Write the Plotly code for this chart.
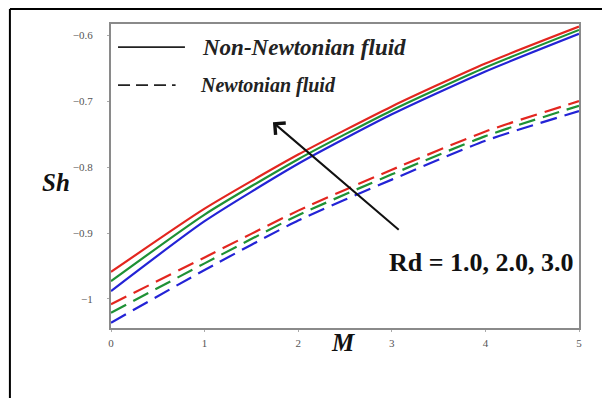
import plotly.graph_objects as go

# ---------------- data ----------------
M = [0, 1, 2, 3, 4, 5]
# Non-Newtonian fluid (solid)
nn_rd1 = [-0.959, -0.863, -0.781, -0.708, -0.643, -0.587]
nn_rd2 = [-0.973, -0.872, -0.788, -0.714, -0.649, -0.592]
nn_rd3 = [-0.988, -0.882, -0.795, -0.720, -0.655, -0.598]
# Newtonian fluid (dashed)
nw_rd1 = [-1.008, -0.937, -0.866, -0.804, -0.746, -0.700]
nw_rd2 = [-1.021, -0.946, -0.873, -0.811, -0.753, -0.707]
nw_rd3 = [-1.036, -0.956, -0.881, -0.819, -0.760, -0.715]

y_ticks = [-1.0, -0.9, -0.8, -0.7, -0.6]
y_tick_text = ["\u22121", "\u22120.9", "\u22120.8", "\u22120.7", "\u22120.6"]
x_ticks = [0, 1, 2, 3, 4, 5]

colors = ["#e3261f", "#1e9135", "#2323d6"]

fig = go.Figure()
for ys, c in zip([nn_rd1, nn_rd2, nn_rd3], colors):
    fig.add_trace(go.Scatter(x=M, y=ys, mode="lines",
                             line=dict(color=c, width=2.2, shape="spline", smoothing=0.6),
                             showlegend=False, hoverinfo="skip"))
for ys, c in zip([nw_rd1, nw_rd2, nw_rd3], colors):
    fig.add_trace(go.Scatter(x=M, y=ys, mode="lines",
                             line=dict(color=c, width=2.2, dash="17px,8px", shape="spline", smoothing=0.6),
                             showlegend=False, hoverinfo="skip"))

serif = "Liberation Serif, Times New Roman, serif"

axis_common = dict(showline=True, linecolor="#8a8a8a", linewidth=2, mirror=True,
                   showgrid=False, zeroline=False, ticks="outside", ticklen=2,
                   tickcolor="#aaa", tickfont=dict(family=serif, size=11, color="#555"))

fig.update_layout(
    width=602, height=398,
    margin=dict(l=111, r=23, t=24, b=70),
    paper_bgcolor="white", plot_bgcolor="white",
    xaxis=dict(range=[0, 5], tickvals=x_ticks, ticklabelstandoff=2, **axis_common),
    yaxis=dict(range=[-1.044, -0.583], tickvals=y_ticks, ticktext=y_tick_text,
               ticklabelstandoff=12, **axis_common),
)

# outer frame (top and left black lines)
fig.add_shape(type="line", xref="paper", yref="paper", x0=-0.216, x1=1.06, y0=1.049, y1=1.049,
              line=dict(color="black", width=2))
fig.add_shape(type="line", xref="paper", yref="paper", x0=-0.216, x1=-0.216, y0=1.049, y1=-0.25,
              line=dict(color="black", width=2))

# legend samples
fig.add_shape(type="line", xref="paper", yref="paper", x0=0.015, x1=0.158, y0=0.924, y1=0.924,
              line=dict(color="#222", width=1.6))
fig.add_shape(type="line", xref="paper", yref="paper", x0=0.015, x1=0.138, y0=0.799, y1=0.799,
              line=dict(color="#222", width=1.6, dash="12px,6px"))

fig.add_annotation(xref="paper", yref="paper", x=0.19, y=0.924, xanchor="left", yanchor="middle",
                   text="<b><i>Non-Newtonian fluid</i></b>", showarrow=False,
                   font=dict(family=serif, size=23, color="#222"))
fig.add_annotation(xref="paper", yref="paper", x=0.186, y=0.799, xanchor="left", yanchor="middle",
                   text="<b><i>Newtonian fluid</i></b>", showarrow=False,
                   font=dict(family=serif, size=20, color="#222"))

# axis titles
fig.add_annotation(xref="paper", yref="paper", x=-0.152, y=0.477, text="<b><i>Sh</i></b>",
                   showarrow=False, font=dict(family=serif, size=25, color="#111"))
fig.add_annotation(xref="paper", yref="paper", x=0.496, y=-0.099, text="<b><i>M</i></b>",
                   showarrow=False, font=dict(family=serif, size=25, color="#111"))

# arrow
fig.add_annotation(x=1.73, y=-0.732, ax=3.09, ay=-0.897, xref="x", yref="y", axref="x", ayref="y",
                   text="", showarrow=True, arrowhead=4, arrowsize=1.5, arrowwidth=2, arrowcolor="#111")
fig.add_annotation(x=2.95, y=-0.945, xref="x", yref="y", xanchor="left", yanchor="middle",
                   text="<b>Rd = 1.0, 2.0, 3.0</b>", showarrow=False,
                   font=dict(family=serif, size=26, color="#111"))

fig.write_html("out.html")
